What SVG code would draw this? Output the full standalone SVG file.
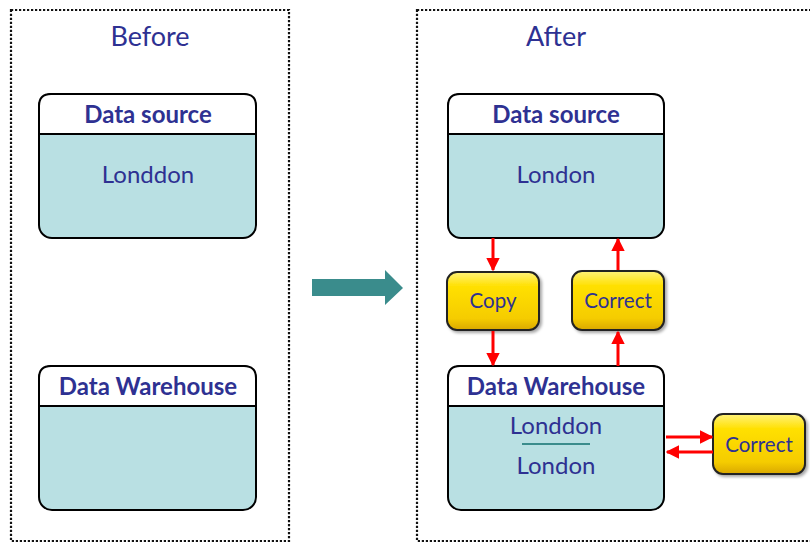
<svg xmlns="http://www.w3.org/2000/svg" width="810" height="543" viewBox="0 0 810 543">
<defs>
<linearGradient id="gold" x1="0" y1="0" x2="0" y2="1">
<stop offset="0" stop-color="#FFF27A"/>
<stop offset="0.25" stop-color="#FFE000"/>
<stop offset="0.8" stop-color="#F5CC00"/>
<stop offset="1" stop-color="#D9A800"/>
</linearGradient>
<filter id="sh" x="-10%" y="-10%" width="130%" height="130%">
<feDropShadow dx="2" dy="2" stdDeviation="1.5" flood-color="#000" flood-opacity="0.35"/>
</filter>
<marker id="ah" viewBox="0 0 10 10" refX="9" refY="5" markerWidth="4.5" markerHeight="4.5" orient="auto" markerUnits="strokeWidth">
<path d="M0,0 L10,5 L0,10 z" fill="#FF0000"/>
</marker>
</defs>
<style>
.frame{fill:none;stroke:#111;stroke-width:2.2;stroke-dasharray:2.2 1.8}
.title{font-family:Lato,"Open Sans",sans-serif;font-size:27px;fill:#2E3192;text-anchor:middle}
.body{fill:#B9E0E3;stroke:#000;stroke-width:2}
.head{fill:#fff;stroke:#000;stroke-width:2}
.ht{font-family:Lato,"Open Sans",sans-serif;font-weight:bold;font-size:24px;fill:#2E3192;text-anchor:middle}
.bt{font-family:Lato,"Open Sans",sans-serif;font-size:24px;fill:#2E3192;text-anchor:middle}
.yb{fill:url(#gold);stroke:#222;stroke-width:2;filter:url(#sh)}
.yt{font-family:Lato,"Open Sans",sans-serif;font-size:20.5px;fill:#2E3192;text-anchor:middle}
.ar{stroke:#FF0000;stroke-width:3;fill:none;marker-end:url(#ah)}
</style>
<rect class="frame" x="11" y="10" width="278" height="531"/>
<rect class="frame" x="417" y="10" width="400" height="531"/>
<text class="title" x="150" y="46">Before</text>
<text class="title" x="556" y="46">After</text>
<path d="M312,279 H385 V270 L403,288 L385,305 V296 H312 Z" fill="#3A8C8C"/>
<g id="ds-before">
<rect class="body" x="39" y="94" width="217" height="144" rx="13"/>
<path class="head" d="M39,134 V106 Q39,94 51,94 H244 Q256,94 256,106 V134 Z"/>
<text class="ht" x="148" y="123">Data source</text>
<text class="bt" x="148" y="183">Londdon</text>
</g>
<g id="dw-before">
<rect class="body" x="39" y="366" width="217" height="144" rx="13"/>
<path class="head" d="M39,406 V378 Q39,366 51,366 H244 Q256,366 256,378 V406 Z"/>
<text class="ht" x="148" y="395">Data Warehouse</text>
</g>
<g id="ds-after">
<rect class="body" x="448" y="94" width="216" height="144" rx="13"/>
<path class="head" d="M448,134 V106 Q448,94 460,94 H652 Q664,94 664,106 V134 Z"/>
<text class="ht" x="556" y="123">Data source</text>
<text class="bt" x="556" y="183">London</text>
</g>
<g id="dw-after">
<rect class="body" x="448" y="366" width="216" height="144" rx="13"/>
<path class="head" d="M448,406 V378 Q448,366 460,366 H652 Q664,366 664,378 V406 Z"/>
<text class="ht" x="556" y="395">Data Warehouse</text>
<text class="bt" x="556" y="434">Londdon</text>
<line x1="522" y1="444" x2="590" y2="444" stroke="#3A8C8C" stroke-width="2"/>
<text class="bt" x="556" y="474">London</text>
</g>
<g id="copy">
<rect class="yb" x="447" y="272" width="92" height="58" rx="10"/>
<text class="yt" x="493" y="308">Copy</text>
</g>
<g id="correct1">
<rect class="yb" x="572" y="271" width="92" height="59" rx="10"/>
<text class="yt" x="618" y="308">Correct</text>
</g>
<g id="correct2">
<rect class="yb" x="713" y="414" width="92" height="60" rx="10"/>
<text class="yt" x="759" y="452">Correct</text>
</g>
<g id="connectors">
<line class="ar" x1="493" y1="238" x2="493" y2="270"/>
<line class="ar" x1="493" y1="331" x2="493" y2="365"/>
<line class="ar" x1="618" y1="366" x2="618" y2="332"/>
<line class="ar" x1="618" y1="270" x2="618" y2="239"/>
<line class="ar" x1="666" y1="437" x2="712" y2="437"/>
<line class="ar" x1="713" y1="452" x2="667" y2="452"/>
</g>
</svg>
